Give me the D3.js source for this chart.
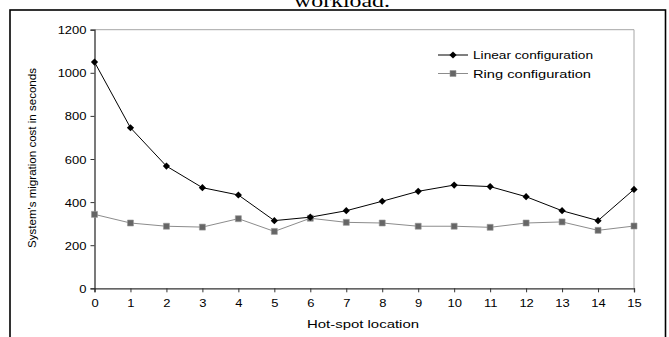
<!DOCTYPE html>
<html><head><meta charset="utf-8">
<script src="https://cdn.jsdelivr.net/npm/d3@7"></script>
<style>body{margin:0;background:#fff}svg{display:block}text{font-family:"Liberation Sans",Arial,sans-serif}</style>
</head><body><svg id="c" width="669" height="337"></svg>
<script>
const locations = [0,1,2,3,4,5,6,7,8,9,10,11,12,13,14,15];
const linearCost = [1050,745,567,467,433,314,330,360,404,450,479,472,425,360,314,459];
const ringCost = [343,303,288,284,323,264,325,306,303,288,288,283,303,308,269,289];
const yTicks = [0,200,400,600,800,1000,1200];
const seriesNames = ["Linear configuration","Ring configuration"];

const svg = d3.select("#c");
const L=94.5, R=634, T=29.7, B=288.3;
const x = d3.scaleLinear().domain([0,15]).range([L,R]);
const y = d3.scaleLinear().domain([0,1200]).range([B,T]);

// outer frame
svg.append("rect").attr("x",10).attr("y",10).attr("width",655.5).attr("height",340)
  .attr("fill","none").attr("stroke","#000").attr("stroke-width",1.6);
// clipped title
svg.append("text").attr("x",342).attr("y",6.5).attr("text-anchor","middle")
  .attr("textLength",96).attr("lengthAdjust","spacingAndGlyphs")
  .style("font-family","'Liberation Serif',serif").style("font-size","19px").text("workload.");

// plot border top/right
svg.append("path").attr("d",`M${L},${T}H${R}V${B}`).attr("fill","none").attr("stroke","#a6a6a6").attr("stroke-width",1);

const SX = 1.18;
const yAxis = d3.axisLeft(y).tickValues(yTicks).tickSizeOuter(0).tickSize(4).tickFormat(d3.format("d"));
const gy = svg.append("g").attr("transform",`translate(${L},0)`).call(yAxis);
const xAxis = d3.axisBottom(x).tickValues(locations).tickSizeOuter(0).tickSize(4).tickFormat(d3.format("d"));
const gx = svg.append("g").attr("transform",`translate(0,${B})`).call(xAxis);
[gy,gx].forEach(g=>{
  g.select(".domain").attr("stroke","#333").attr("stroke-width",1.3);
  g.selectAll(".tick line").attr("stroke","#333");
  g.selectAll("text").style("font-size","11px").attr("fill","#000").style("font-family","'Liberation Sans',Arial,sans-serif");
});
gy.selectAll(".tick text").attr("x",null).attr("dy",null).attr("transform",`translate(-8,4) scale(${SX},1)`);
gx.selectAll(".tick text").attr("y",null).attr("dy",null).attr("transform",`translate(0,19) scale(${SX},1)`);

svg.append("text").attr("transform","translate(36,158) rotate(-90)").attr("text-anchor","middle")
  .attr("textLength",180).attr("lengthAdjust","spacingAndGlyphs")
  .style("font-size","11px").text("System's migration cost in seconds");
svg.append("text").attr("x",363).attr("y",328).attr("text-anchor","middle")
  .attr("textLength",112).attr("lengthAdjust","spacingAndGlyphs")
  .style("font-size","11.5px").text("Hot-spot location");

const line = d3.line().x((d,i)=>x(locations[i])).y(d=>y(d));
svg.append("path").datum(ringCost).attr("d",line).attr("fill","none").attr("stroke","#8c8c8c").attr("stroke-width",1);
svg.append("path").datum(linearCost).attr("d",line).attr("fill","none").attr("stroke","#000").attr("stroke-width",1);

const sq = d3.symbol().type(d3.symbolSquare).size(36);
const di = d3.symbol().type(d3.symbolSquare).size(26);
svg.selectAll(".rm").data(ringCost).enter().append("path")
  .attr("d",sq).attr("transform",(d,i)=>`translate(${x(locations[i])},${y(d)})`)
  .attr("fill","#666").attr("stroke","#999").attr("stroke-width",0.6);
svg.selectAll(".lm").data(linearCost).enter().append("path")
  .attr("d",di).attr("transform",(d,i)=>`translate(${x(locations[i])},${y(d)}) rotate(45)`)
  .attr("fill","#000");

// legend
const lg = svg.append("g");
const ly=[55,73.5];
const lw=[120,118];
lg.append("line").attr("x1",438).attr("x2",468).attr("y1",ly[0]).attr("y2",ly[0]).attr("stroke","#000");
lg.append("path").attr("d",di).attr("transform",`translate(453,${ly[0]}) rotate(45)`).attr("fill","#000");
lg.append("line").attr("x1",438).attr("x2",468).attr("y1",ly[1]).attr("y2",ly[1]).attr("stroke","#8c8c8c");
lg.append("path").attr("d",sq).attr("transform",`translate(453,${ly[1]})`).attr("fill","#666").attr("stroke","#999").attr("stroke-width",0.6);
seriesNames.forEach((n,i)=>lg.append("text").attr("x",473).attr("y",ly[i]+4)
  .attr("textLength",lw[i]).attr("lengthAdjust","spacingAndGlyphs").style("font-size","11.5px").text(n));
</script></body></html>
